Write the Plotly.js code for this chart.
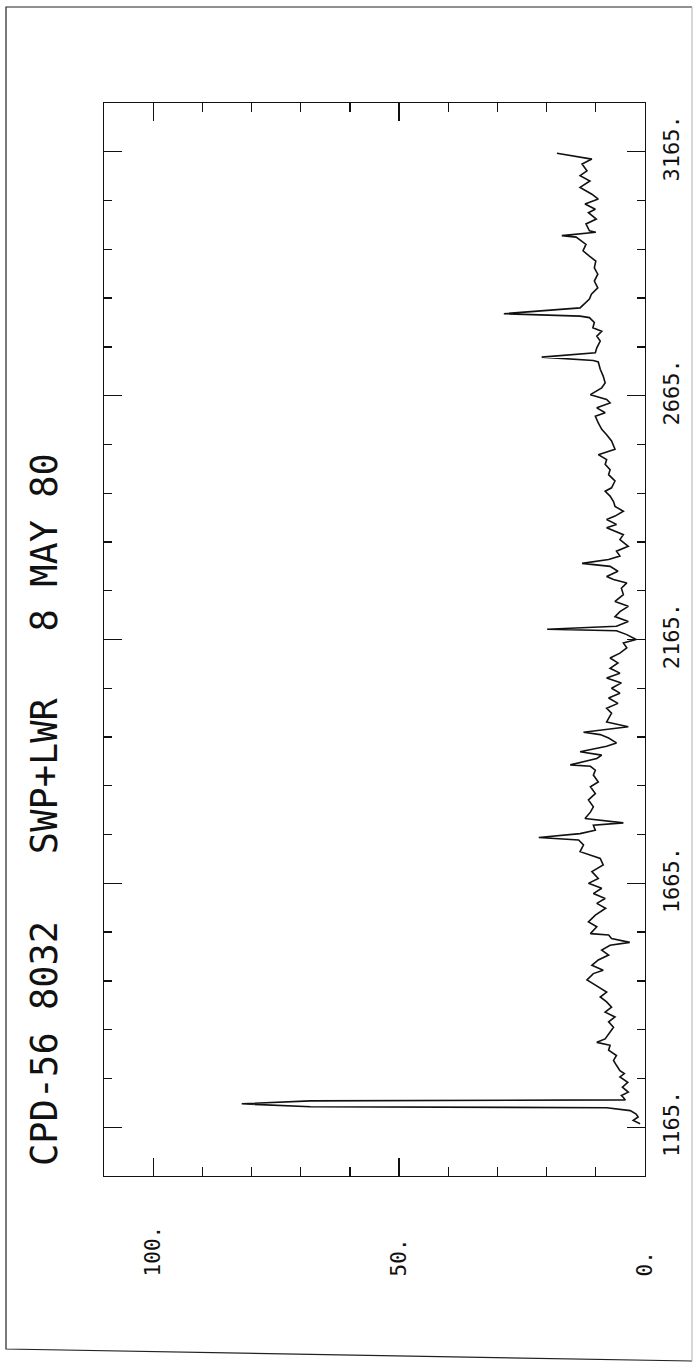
<!DOCTYPE html>
<html>
<head>
<meta charset="utf-8">
<script src="https://cdn.plot.ly/plotly-3.0.1.min.js"></script>
<style>
  html, body { margin: 0; padding: 0; background: #ffffff; }
  #chart { width: 694px; height: 1364px; }
</style>
</head>
<body>
<div id="chart"></div>
<script>
// Wavelength (Angstrom) and flux
const wavelength = [
  1172, 1179, 1186, 1192, 1199, 1205, 1207, 1213, 1219, 1221,
  1226, 1230, 1237, 1247, 1257, 1268, 1275, 1281, 1292, 1302,
  1312, 1323, 1333, 1339, 1346, 1360, 1370, 1381, 1391, 1401,
  1411, 1422, 1432, 1442, 1453, 1467, 1480, 1487, 1497, 1508,
  1518, 1528, 1538, 1544, 1552, 1559, 1562, 1576, 1586, 1600,
  1614, 1624, 1634, 1644, 1655, 1665, 1675, 1689, 1703, 1716,
  1730, 1744, 1754, 1759, 1767, 1774, 1784, 1789, 1798, 1811,
  1822, 1836, 1849, 1863, 1873, 1887, 1897, 1905, 1908, 1921,
  1928, 1935, 1946, 1953, 1963, 1970, 1975, 1982, 1986, 1996,
  2007, 2014, 2024, 2034, 2045, 2055, 2065, 2076, 2086, 2096,
  2106, 2117, 2127, 2137, 2148, 2158, 2165, 2175, 2183, 2186,
  2192, 2202, 2212, 2222, 2233, 2243, 2257, 2270, 2281, 2288,
  2294, 2305, 2315, 2321, 2329, 2336, 2346, 2356, 2370, 2380,
  2394, 2401, 2411, 2418, 2428, 2438, 2448, 2459, 2469, 2476,
  2490, 2503, 2513, 2524, 2534, 2544, 2555, 2572, 2585, 2596,
  2609, 2623, 2630, 2640, 2650, 2657, 2667, 2681, 2691, 2705,
  2719, 2734, 2737, 2744, 2753, 2763, 2777, 2787, 2797, 2804,
  2815, 2825, 2828, 2833, 2845, 2853, 2863, 2873, 2886, 2900,
  2914, 2927, 2941, 2951, 2962, 2975, 2990, 2993, 3000, 3003,
  3017, 3027, 3040, 3047, 3058, 3068, 3078, 3092, 3105, 3116,
  3126, 3140, 3150, 3162
];
const flux = [
  1.0, 2.4, 1.4, 1.8, 3.0, 7.8, 68, 82, 68, 4.0,
  4.4, 4.8, 3.4, 4.6, 3.5, 5.1, 4.2, 5.1, 5.8, 6.4,
  5.8, 7.4, 7.1, 9.8, 8.1, 7.1, 6.4, 7.4, 6.1, 8.1,
  6.8, 7.8, 9.1, 7.8, 9.5, 11.8, 10.5, 8.5, 10.8, 9.5,
  7.4, 8.8, 7.1, 3.1, 6.8, 7.4, 11.1, 9.8, 11.5, 10.1,
  8.0, 9.8, 8.1, 10.5, 8.8, 11.5, 9.5, 10.8, 8.5, 9.1,
  13.2, 12.5, 13.5, 21.6, 13.2, 10.1, 10.5, 4.4, 12.2, 11.1,
  10.5, 11.5, 10.1, 11.1, 9.5, 10.5, 10.1, 11.1, 15.2, 9.8,
  8.8, 13.2, 7.8, 5.8, 7.4, 9.1, 12.5, 6.4, 3.4, 7.8,
  7.1, 6.8, 7.8, 5.5, 7.4, 5.1, 6.8, 4.8, 7.8, 5.1,
  7.1, 5.5, 7.1, 5.1, 3.7, 4.4, 1.8, 3.7, 5.8, 19.9,
  5.8, 3.4, 6.1, 5.1, 3.4, 6.1, 4.4, 4.8, 3.7, 6.4,
  7.8, 5.5, 7.1, 12.8, 7.4, 5.1, 5.8, 3.4, 5.1, 4.4,
  7.8, 5.8, 7.8, 6.1, 4.4, 6.1, 6.4, 7.1, 8.1, 6.8,
  6.1, 7.4, 7.1, 8.1, 7.8, 9.5, 6.1, 6.8, 7.8, 8.8,
  9.5, 10.1, 8.1, 9.8, 7.1, 7.8, 11.1, 8.8, 8.1, 8.5,
  9.1, 9.5, 10.5, 21.0, 10.1, 9.8, 9.1, 9.8, 8.8, 10.6,
  10.3, 11.3, 13.2, 28.7, 13.2, 12.3, 11.3, 10.9, 9.6, 10.3,
  9.6, 10.3, 10.0, 11.3, 12.6, 12.0, 14.0, 16.9, 10.0, 11.3,
  12.0, 9.9, 11.5, 10.1, 12.2, 9.5, 10.8, 13.2, 11.2, 13.2,
  11.8, 12.8, 10.8, 17.9
];

const waveTicks = [1165, 1665, 2165, 2665, 3165];
const waveTickLabels = ["1165.", "1665.", "2165.", "2665.", "3165."];
const fluxTicks = [0, 50, 100];
const fluxTickLabels = ["0.\u00a0\u00a0", "50.\u00a0", "100."];
const titleText = "CPD-56\u00a08032\u00a0\u00a0\u00a0SWP+LWR\u00a0\u00a0\u00a08\u00a0MAY\u00a080";

const mono = "DejaVu Sans Mono, monospace";

// plot area geometry (px) used to place page decorations in paper units
const L = 104, R = 49, T = 103, B = 188;
const W = 694 - L - R, H = 1364 - T - B;
const px = X => (X - L) / W;
const py = Y => (1364 - B - Y) / H;

const trace = {
  type: 'scatter', mode: 'lines',
  x: flux, y: wavelength,
  line: { color: '#111111', width: 1.6 },
  hoverinfo: 'skip'
};

const layout = {
  width: 694, height: 1364,
  margin: { l: L, r: R, t: T, b: B, pad: 0 },
  paper_bgcolor: '#ffffff', plot_bgcolor: '#ffffff',
  showlegend: false,
  xaxis: {
    range: [110, 0], showgrid: false, zeroline: false,
    showline: true, linecolor: '#111111', linewidth: 1.4, mirror: 'ticks',
    ticks: 'inside', ticklen: 18, tickwidth: 1.3, tickcolor: '#111111',
    tickmode: 'array', tickvals: fluxTicks, ticktext: fluxTickLabels,
    tickangle: -90, ticklabelstandoff: 40,
    tickfont: { family: mono, size: 21, color: '#111111' },
    minor: { tickmode: 'linear', tick0: 0, dtick: 10, ticks: 'inside', ticklen: 9, tickwidth: 1.3, tickcolor: '#111111', showgrid: false }
  },
  yaxis: {
    range: [1065, 3265], side: 'right', showgrid: false, zeroline: false,
    showline: true, linecolor: '#111111', linewidth: 1.4, mirror: 'ticks',
    ticks: 'inside', ticklen: 18, tickwidth: 1.3, tickcolor: '#111111',
    tickmode: 'array', tickvals: waveTicks, ticktext: waveTickLabels,
    tickangle: -90, ticklabelstandoff: 6,
    tickfont: { family: mono, size: 22, color: '#111111' },
    minor: { tickmode: 'linear', tick0: 1165, dtick: 100, ticks: 'inside', ticklen: 8, tickwidth: 1.3, tickcolor: '#111111', showgrid: false }
  },
  annotations: [{
    xref: 'paper', yref: 'paper', x: px(44), y: py(810),
    text: titleText, textangle: -90, showarrow: false,
    xanchor: 'center', yanchor: 'middle',
    font: { family: mono, size: 37, color: '#111111' }
  }],
  shapes: [
    { type: 'path', xref: 'paper', yref: 'paper', layer: 'above',
      path: `M ${px(692)} ${py(7)} L ${px(6)} ${py(7)} L ${px(6)} ${py(1349)} L ${px(692)} ${py(1361)}`,
      line: { color: '#222222', width: 1.2 } },
    { type: 'line', xref: 'paper', yref: 'paper', layer: 'above',
      x0: px(692), y0: py(7), x1: px(692), y1: py(1361),
      line: { color: '#b0b0b0', width: 1 } }
  ]
};

Plotly.newPlot('chart', [trace], layout, { staticPlot: true, displayModeBar: false });
</script>
</body>
</html>
